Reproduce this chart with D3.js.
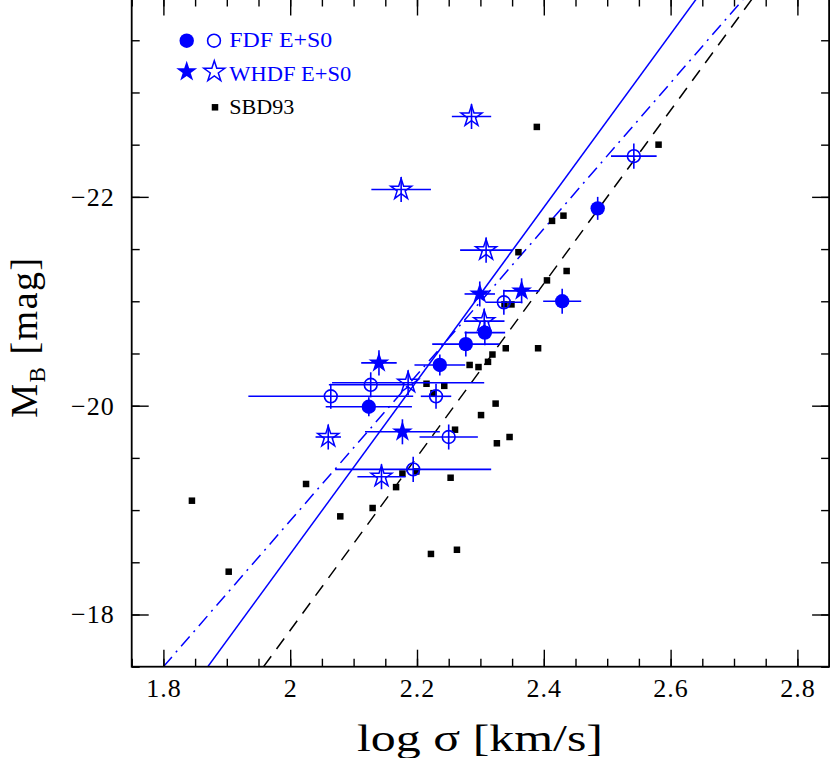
<!DOCTYPE html>
<html>
<head>
<meta charset="utf-8">
<script src="https://cdn.jsdelivr.net/npm/d3@7"></script>
<style>
  body { margin: 0; background: #fff; }
  text { font-family: "Liberation Serif", "DejaVu Serif", serif; }
</style>
</head>
<body>
<script>
// FDF E+S0, filled circles
var fdfFilledSigma = [2.485, 2.429, 2.307, 2.277, 2.236, 2.124];
var fdfFilledMag   = [-21.89, -21.00, -20.70, -20.59, -20.39, -19.99];
var fdfFilledErrX  = [0.010, 0.030, 0.032, 0.053, 0.040, 0.068];
var fdfFilledErrY  = [0.11, 0.12, 0.12, 0.12, 0.10, 0.09];

// FDF E+S0, open circles
var fdfOpenSigma = [2.542, 2.337, 2.127, 2.064, 2.230, 2.250, 2.194];
var fdfOpenMag   = [-22.39, -20.99, -20.20, -20.09, -20.09, -19.70, -19.39];
var fdfOpenErrX  = [0.036, 0.029, 0.066, 0.130, 0.024, 0.046, 0.123];
var fdfOpenErrY  = [0.12, 0.12, 0.12, 0.12, 0.12, 0.12, 0.12];

// WHDF E+S0, filled stars
var whdfFilledSigma = [2.299, 2.365, 2.140, 2.177];
var whdfFilledMag   = [-21.07, -21.10, -20.41, -19.75];
var whdfFilledErrX  = [0.024, 0.028, 0.028, 0.059];
var whdfFilledErrY  = [0.12, 0.12, 0.12, 0.12];

// WHDF E+S0, open stars
var whdfOpenSigma = [2.286, 2.175, 2.309, 2.306, 2.186, 2.060, 2.144];
var whdfOpenMag   = [-22.77, -22.07, -21.49, -20.81, -20.22, -19.70, -19.32];
var whdfOpenErrX  = [0.031, 0.047, 0.041, 0.032, 0.120, 0.020, 0.038];
var whdfOpenErrY  = [0.12, 0.12, 0.12, 0.12, 0.12, 0.12, 0.12];

// SBD93 local sample
var sbdSigma = [1.845, 1.903, 2.025, 2.079, 2.130, 2.167, 2.177, 2.199, 2.222, 2.263,
                2.253, 2.260, 2.215, 2.243, 2.226, 2.283, 2.297, 2.312, 2.319, 2.340,
                2.391, 2.324, 2.301, 2.346, 2.326, 2.338, 2.349, 2.405, 2.436, 2.360,
                2.413, 2.431, 2.389, 2.581];
var sbdMag   = [-19.09, -18.41, -19.25, -18.94, -19.02, -19.22, -19.35, -19.37, -18.58, -18.62,
                -19.31, -19.77, -20.21, -20.19, -20.12, -20.39, -20.37, -20.42, -20.49, -20.55,
                -20.55, -20.02, -19.91, -19.70, -19.64, -20.97, -20.97, -21.20, -21.29, -21.47,
                -21.77, -21.82, -22.67, -22.50];

// fitted relations  M = slope * logsigma + intercept
var fitNames      = ["fdf", "whdf", "sbd93"];
var fitSlope      = [-8.30, -6.99, -8.30];
var fitIntercept  = [-1.979, -4.918, -1.249];

var legendLabels = ["FDF E+S0", "WHDF E+S0", "SBD93"];
var xTicks = [1.8, 2.0, 2.2, 2.4, 2.6, 2.8];
var yTicks = [-18, -20, -22];

var blue = "#0000ff";
var W = 830, H = 758;

var x = d3.scaleLinear().domain([1.75, 2.85]).range([131.7, 829.1]);
var y = d3.scaleLinear().domain([-17.5, -23.9]).range([666.7, -1.5]);

var svg = d3.select("body").append("svg")
    .attr("width", W).attr("height", H);

svg.append("clipPath").attr("id", "plotclip")
  .append("rect")
    .attr("x", x(1.75)).attr("y", y(-23.9))
    .attr("width", x(2.85) - x(1.75)).attr("height", y(-17.5) - y(-23.9));

var plot = svg.append("g").attr("clip-path", "url(#plotclip)");

// fit lines
var fitStyle = [
  {stroke: blue, dash: null},
  {stroke: blue, dash: "13,6,2,6"},
  {stroke: "#000", dash: "13,9"}
];
fitSlope.forEach(function(b, i) {
  var a = fitIntercept[i];
  var m0 = -17.5, m1 = -23.9;
  plot.append("line")
    .attr("class", "fit-" + fitNames[i])
    .attr("x1", x((m0 - a) / b)).attr("y1", y(m0))
    .attr("x2", x((m1 - a) / b)).attr("y2", y(m1))
    .attr("stroke", fitStyle[i].stroke)
    .attr("stroke-width", 1.5)
    .attr("stroke-dasharray", fitStyle[i].dash);
});

// SBD93 squares
var sq = 6.5;
plot.selectAll("rect.sbd")
  .data(sbdSigma.map(function(s, i) { return {s: s, m: sbdMag[i]}; }))
  .enter().append("rect")
    .attr("class", "sbd")
    .attr("x", function(d) { return x(d.s) - sq / 2; })
    .attr("y", function(d) { return y(d.m) - sq / 2; })
    .attr("width", sq).attr("height", sq)
    .attr("fill", "#000");

function series(sig, mag, ex, ey) {
  return sig.map(function(s, i) { return {s: s, m: mag[i], ex: ex[i], ey: ey[i]}; });
}

function errorBars(data, cls) {
  var g = plot.append("g").attr("class", cls)
    .attr("stroke", blue).attr("stroke-width", 1.6);
  g.selectAll("line.h").data(data).enter().append("line").attr("class", "h")
    .attr("x1", function(d) { return x(d.s - d.ex); })
    .attr("x2", function(d) { return x(d.s + d.ex); })
    .attr("y1", function(d) { return y(d.m); })
    .attr("y2", function(d) { return y(d.m); });
  g.selectAll("line.v").data(data).enter().append("line").attr("class", "v")
    .attr("x1", function(d) { return x(d.s); })
    .attr("x2", function(d) { return x(d.s); })
    .attr("y1", function(d) { return y(d.m - d.ey); })
    .attr("y2", function(d) { return y(d.m + d.ey); });
}

var fdfFilled = series(fdfFilledSigma, fdfFilledMag, fdfFilledErrX, fdfFilledErrY);
var fdfOpen = series(fdfOpenSigma, fdfOpenMag, fdfOpenErrX, fdfOpenErrY);
var whdfFilled = series(whdfFilledSigma, whdfFilledMag, whdfFilledErrX, whdfFilledErrY);
var whdfOpen = series(whdfOpenSigma, whdfOpenMag, whdfOpenErrX, whdfOpenErrY);

errorBars(fdfFilled, "err-fdf-filled");
errorBars(fdfOpen, "err-fdf-open");
errorBars(whdfFilled, "err-whdf-filled");
errorBars(whdfOpen, "err-whdf-open");

var starR = 11;
var star = d3.symbol().type(d3.symbolStar).size(starR * starR / 0.8908130915292852);

function drawCircles(data, filled) {
  plot.selectAll(null).data(data).enter().append("circle")
    .attr("cx", function(d) { return x(d.s); })
    .attr("cy", function(d) { return y(d.m); })
    .attr("r", filled ? 7.2 : 6.4)
    .attr("fill", filled ? blue : "none")
    .attr("stroke", filled ? "none" : blue)
    .attr("stroke-width", 1.6);
}
function drawStars(data, filled) {
  plot.selectAll(null).data(data).enter().append("path")
    .attr("d", star)
    .attr("transform", function(d) { return "translate(" + x(d.s) + "," + y(d.m) + ")"; })
    .attr("fill", filled ? blue : "none")
    .attr("stroke", filled ? "none" : blue)
    .attr("stroke-width", 1.5);
}
drawCircles(fdfFilled, true);
drawCircles(fdfOpen, false);
drawStars(whdfFilled, true);
drawStars(whdfOpen, false);

// axes
var x0 = x(1.75), x1 = x(2.85), y0 = y(-17.5), y1 = y(-23.9);
var fmtX = d3.format("~g");

function styleAxis(g) {
  g.select(".domain").remove();
  g.selectAll(".tick line").attr("stroke", "#000").attr("stroke-width", 1.4);
  g.selectAll(".tick text").attr("fill", "#000")
    .style("font-family", "'Liberation Serif', serif").style("font-size", "26px")
    .style("letter-spacing", "1px");
}

svg.append("g").attr("transform", "translate(0," + y0 + ")")
  .call(d3.axisBottom(x).tickValues(x.ticks(22)).tickSize(-8).tickFormat(""))
  .call(styleAxis);
svg.append("g").attr("transform", "translate(0," + y0 + ")")
  .call(d3.axisBottom(x).tickValues(xTicks).tickSize(-17).tickPadding(12).tickFormat(fmtX))
  .call(styleAxis);
svg.append("g").attr("transform", "translate(0," + y1 + ")")
  .call(d3.axisTop(x).tickValues(x.ticks(22)).tickSize(-8).tickFormat(""))
  .call(styleAxis);
svg.append("g").attr("transform", "translate(0," + y1 + ")")
  .call(d3.axisTop(x).tickValues(xTicks).tickSize(-17).tickFormat(""))
  .call(styleAxis);

svg.append("g").attr("transform", "translate(" + x0 + ",0)")
  .call(d3.axisLeft(y).tickValues(y.ticks(13)).tickSize(-8).tickFormat(""))
  .call(styleAxis);
svg.append("g").attr("transform", "translate(" + x0 + ",0)")
  .call(d3.axisLeft(y).tickValues(yTicks).tickSize(-17).tickPadding(17).tickFormat(d3.format("d")))
  .call(styleAxis);
svg.append("g").attr("transform", "translate(" + x1 + ",0)")
  .call(d3.axisRight(y).tickValues(y.ticks(13)).tickSize(-8).tickFormat(""))
  .call(styleAxis);
svg.append("g").attr("transform", "translate(" + x1 + ",0)")
  .call(d3.axisRight(y).tickValues(yTicks).tickSize(-17).tickFormat(""))
  .call(styleAxis);

svg.append("rect")
  .attr("x", x0).attr("y", y1)
  .attr("width", x1 - x0).attr("height", y0 - y1)
  .attr("fill", "none").attr("stroke", "#000").attr("stroke-width", 1.8);

// axis titles
svg.append("text")
  .attr("x", 480).attr("y", 751)
  .attr("text-anchor", "middle")
  .attr("textLength", 246)
  .attr("lengthAdjust", "spacingAndGlyphs")
  .style("font-size", "37px")
  .text("log σ [km/s]");

var yl = svg.append("text")
  .attr("transform", "translate(37,337) rotate(-90)")
  .attr("text-anchor", "middle")
  .style("font-size", "38px")
  .style("letter-spacing", "1.5px");
yl.append("tspan").text("M");
yl.append("tspan").attr("dy", 8).style("font-size", "23px").text("B");
yl.append("tspan").attr("dy", -8).text(" [mag]");

// legend
var leg = svg.append("g").attr("class", "legend");
leg.append("circle").attr("cx", 186.7).attr("cy", 40.7).attr("r", 7.2).attr("fill", blue);
leg.append("circle").attr("cx", 214).attr("cy", 40.7).attr("r", 6.4)
  .attr("fill", "none").attr("stroke", blue).attr("stroke-width", 1.6);
leg.append("path").attr("d", star).attr("transform", "translate(186.7,71.7)").attr("fill", blue);
leg.append("path").attr("d", star).attr("transform", "translate(214.3,71.7)")
  .attr("fill", "none").attr("stroke", blue).attr("stroke-width", 1.5);
leg.append("rect").attr("x", 215 - sq / 2).attr("y", 107.3 - sq / 2)
  .attr("width", sq).attr("height", sq).attr("fill", "#000");

var legY = [47.3, 81, 114.3], legLen = [103, 122, 65], legCol = [blue, blue, "#000"];
leg.selectAll("text.lab").data(legendLabels).enter().append("text")
  .attr("class", "lab")
  .attr("x", 229.3)
  .attr("y", function(d, i) { return legY[i]; })
  .attr("textLength", function(d, i) { return legLen[i]; })
  .attr("lengthAdjust", "spacingAndGlyphs")
  .attr("fill", function(d, i) { return legCol[i]; })
  .style("font-size", "20px")
  .text(function(d) { return d; });
</script>
</body>
</html>
